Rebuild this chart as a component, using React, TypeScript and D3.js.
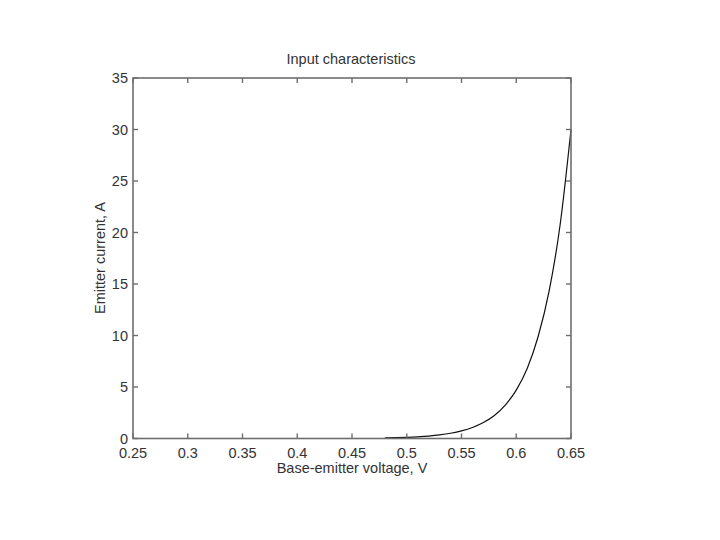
import React from "react";
import * as d3 from "d3";

const voltages = [0.48, 0.49, 0.5, 0.51, 0.52, 0.53, 0.54, 0.55, 0.56, 0.57, 0.58, 0.59, 0.6, 0.61, 0.62, 0.63, 0.64, 0.65];
const currents = [0.055, 0.08, 0.115, 0.167, 0.24, 0.35, 0.51, 0.74, 1.07, 1.55, 2.24, 3.25, 4.7, 6.8, 9.9, 14.3, 20.7, 30];
const xTicks = [0.25, 0.3, 0.35, 0.4, 0.45, 0.5, 0.55, 0.6, 0.65];
const yTicks = [0, 5, 10, 15, 20, 25, 30, 35];
const title = "Input characteristics";
const xLabel = "Base-emitter voltage, V";
const yLabel = "Emitter current, A";

export default function App() {
  const left = 133, right = 571, top = 78, bottom = 438.5;
  const x = d3.scaleLinear().domain([0.25, 0.65]).range([left, right]);
  const y = d3.scaleLinear().domain([0, 35]).range([bottom, top]);
  const pts = voltages.map((v, i) => [v, currents[i]] as [number, number]);
  const line = d3.line<[number, number]>().x(d => x(d[0])).y(d => y(d[1])).curve(d3.curveMonotoneX);
  const axisColor = "#6e6e6e";
  const textColor = "#333";
  const font = "Liberation Sans, Arial, sans-serif";
  const fs = 14.5;
  const tl = 5;
  return (
    <svg width={720} height={540} style={{ position: "absolute", left: 0, top: 0, background: "#fff" }} fontFamily={font}>
      <rect x={0} y={0} width={720} height={540} fill="#fff" />
      <path d={line(pts) || ""} fill="none" stroke="#111" strokeWidth={1.2} />
      <rect x={left} y={top} width={right - left} height={bottom - top} fill="none" stroke={axisColor} strokeWidth={1.6} />
      {xTicks.map(t => (
        <g key={"x" + t}>
          <line x1={x(t)} x2={x(t)} y1={bottom} y2={bottom - tl} stroke={axisColor} strokeWidth={1.4} />
          <line x1={x(t)} x2={x(t)} y1={top} y2={top + tl} stroke={axisColor} strokeWidth={1.4} />
          <text x={x(t)} y={bottom + 19} textAnchor="middle" fontSize={fs} fill={textColor}>{String(t)}</text>
        </g>
      ))}
      {yTicks.map(t => (
        <g key={"y" + t}>
          <line x1={left} x2={left + tl} y1={y(t)} y2={y(t)} stroke={axisColor} strokeWidth={1.4} />
          <line x1={right} x2={right - tl} y1={y(t)} y2={y(t)} stroke={axisColor} strokeWidth={1.4} />
          <text x={left - 5} y={y(t) + 5} textAnchor="end" fontSize={fs} fill={textColor}>{t}</text>
        </g>
      ))}
      <text x={351} y={64} textAnchor="middle" fontSize={fs} fill={textColor}>{title}</text>
      <text x={352} y={473} textAnchor="middle" fontSize={fs} fill={textColor}>{xLabel}</text>
      <text transform={`translate(104.5,258) rotate(-90)`} textAnchor="middle" fontSize={fs} fill={textColor}>{yLabel}</text>
    </svg>
  );
}
